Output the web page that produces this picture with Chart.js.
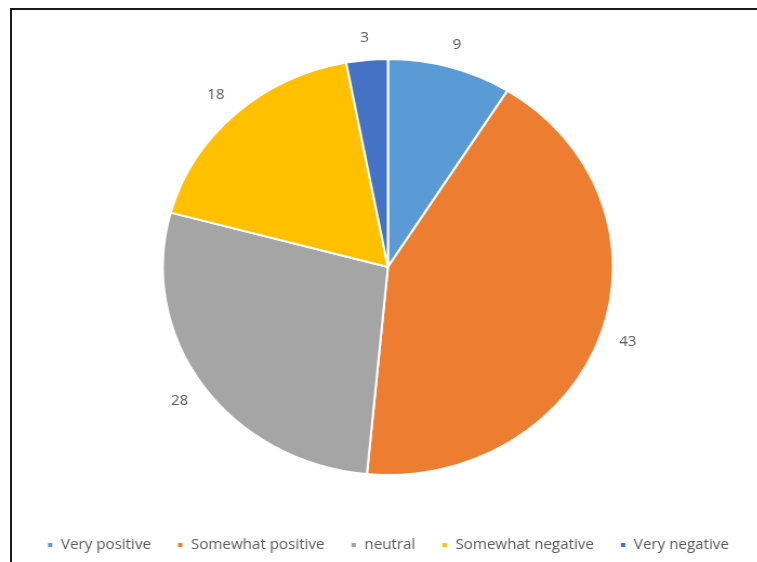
<!DOCTYPE html>
<html>
<head>
<meta charset="utf-8">
<script src="https://cdn.jsdelivr.net/npm/chart.js@4/dist/chart.umd.min.js"></script>
<style>
    html, body { margin: 0; padding: 0; background: #fff; overflow: hidden; }
    body { width: 757px; height: 562px; position: relative; }
    /* the reference is a slightly widened screenshot, so the chart is stretched a bit */
    #wrap { position: absolute; left: 0; top: 0; width: 700px; height: 562px;
            transform: scaleX(1.082); transform-origin: 0 0; }
    #frame { position: absolute; left: 10px; top: 8px; width: 800px; height: 600px;
             border: 2px solid #1a1a1a; pointer-events: none; }
</style>
</head>
<body>
<div id="wrap"><canvas id="pieChart"></canvas></div>
<div id="frame"></div>
<script>
// Data
const categories = ["Very positive", "Somewhat positive", "neutral", "Somewhat negative", "Very negative"];
const values = [9, 43, 28, 18, 3];
const sliceColors = ["#5B9BD5", "#ED7D31", "#A5A5A5", "#FFC000", "#4472C4"];

const textColor = "#595959";
const fontFamily = "'Open Sans', sans-serif";

// value labels just outside each slice (like Excel "outside end")
const outsideLabels = {
    id: "outsideLabels",
    afterDatasetsDraw(chart) {
        const ctx = chart.ctx;
        const meta = chart.getDatasetMeta(0);
        ctx.save();
        ctx.font = "14px " + fontFamily;
        ctx.fillStyle = textColor;
        ctx.textAlign = "center";
        ctx.textBaseline = "middle";
        meta.data.forEach((arc, i) => {
            const p = arc.getProps(["x", "y", "startAngle", "endAngle", "outerRadius"], true);
            const mid = (p.startAngle + p.endAngle) / 2;
            const text = String(chart.data.datasets[0].data[i]);
            const w = ctx.measureText(text).width;
            const h = 10;
            const cos = Math.cos(mid), sin = Math.sin(mid);
            const r = p.outerRadius + 17 + Math.abs(cos) * w / 2 + Math.abs(sin) * h / 2;
            ctx.fillText(text, p.x + cos * r, p.y + sin * r);
        });
        ctx.restore();
    }
};

let chart = new Chart("pieChart", {
    type: "pie",
    data: {
        labels: categories,
        datasets: [{
            data: values,
            backgroundColor: sliceColors,
            borderColor: "#ffffff",
            borderWidth: 2
        }]
    },
    options: {
        responsive: true,
        maintainAspectRatio: false,
        animation: false,
        radius: 208,
        layout: {
            padding: {left: 17, right: 0, top: 20, bottom: 0}
        },
        plugins: {
            legend: {
                position: "bottom",
                labels: {
                    boxWidth: 6,
                    boxHeight: 6,
                    padding: 24,
                    color: textColor,
                    font: {family: fontFamily, size: 14}
                }
            },
            tooltip: {enabled: false}
        }
    },
    plugins: [outsideLabels]
});
</script>
</body>
</html>
